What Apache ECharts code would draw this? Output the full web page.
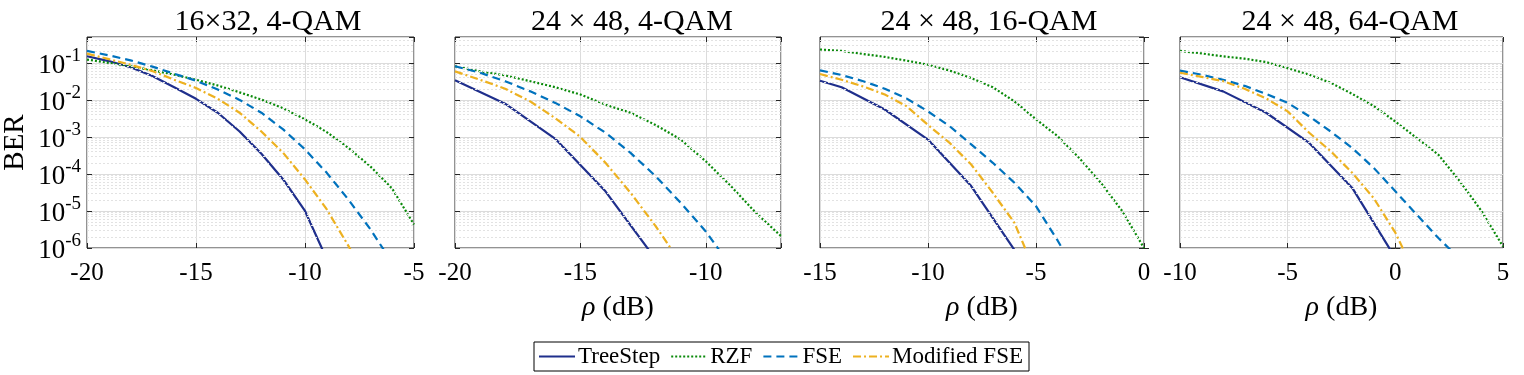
<!DOCTYPE html>
<html>
<head>
<meta charset="utf-8">
<title>BER vs rho</title>
<script src="https://cdn.jsdelivr.net/npm/echarts@6/dist/echarts.min.js"></script>
<style>
  html, body { margin: 0; padding: 0; background: #fff; }
  #chart { width: 1524px; height: 375px; }
</style>
</head>
<body>
<div id="chart"></div>
<script>
// ---- data (BER, x in dB) ----
const titles = ['16\u00d732, 4-QAM', '24 \u00d7 48, 4-QAM', '24 \u00d7 48, 16-QAM', '24 \u00d7 48, 64-QAM']
const seriesNames = ['TreeStep', 'RZF', 'FSE', 'Modified FSE']

// panel 1: 16x32, 4-QAM
const snr1 = [-20, -19, -18, -17, -16, -15, -14, -13, -12, -11, -10, -9, -8, -7, -6, -5]
const treeStep1 = [1.51e-1, 1.12e-1, 7.6e-2, 4.4e-2, 2.2e-2, 1.07e-2, 4.5e-3, 1.4e-3, 3.5e-4, 7.1e-5, 1.0e-5, 5.0e-7]
const rzf1 = [1.23e-1, 1.0e-1, 8.1e-2, 6.3e-2, 4.8e-2, 3.5e-2, 2.45e-2, 1.6e-2, 1.02e-2, 5.9e-3, 3.0e-3, 1.35e-3, 5.0e-4, 1.6e-4, 4.0e-5, 4.3e-6]
const fse1 = [2.1e-1, 1.6e-1, 1.17e-1, 7.9e-2, 5.1e-2, 3.3e-2, 1.9e-2, 1.0e-2, 4.5e-3, 1.6e-3, 4.6e-4, 1.07e-4, 2.0e-5, 3.2e-6, 4.0e-7]
const mfse1 = [1.78e-1, 1.26e-1, 8.9e-2, 6.0e-2, 3.5e-2, 2.1e-2, 1.07e-2, 4.5e-3, 1.4e-3, 3.7e-4, 7.1e-5, 1.1e-5, 1.12e-6, 1.0e-7]

// panel 2: 24x48, 4-QAM
const snr2 = [-20, -19, -18, -17, -16, -15, -14, -13, -12, -11, -10, -9, -8, -7]
const treeStep2 = [3.4e-2, null, 7.9e-3, null, 8.9e-4, null, 3.4e-5, null, 5.0e-7]
const rzf2 = [8.1e-2, 5.9e-2, 4.6e-2, 3.2e-2, 2.2e-2, 1.4e-2, 7.4e-3, 4.5e-3, 2.1e-3, 8.5e-4, 2.2e-4, 4.7e-5, 8.9e-6, 2.1e-6]
const fse2 = [8.1e-2, 5.4e-2, 3.2e-2, 1.7e-2, 8.3e-3, 3.6e-3, 1.3e-3, 3.7e-4, 8.7e-5, 1.66e-5, 2.8e-6, 3.2e-7]
const mfse2 = [5.9e-2, 3.5e-2, 2.0e-2, 9.1e-3, 3.2e-3, 1.0e-3, 2.0e-4, 3.1e-5, 3.9e-6, 4.0e-7]

// panel 3: 24x48, 16-QAM
const snr3 = [-15, -14, -13, -12, -11, -10, -9, -8, -7, -6, -5, -4, -3, -2, -1, 0]
const treeStep3 = [3.3e-2, 2.2e-2, null, 5.5e-3, null, 8.5e-4, null, 4.7e-5, null, 8.9e-7]
const rzf3 = [2.3e-1, 2.1e-1, 1.74e-1, 1.45e-1, 1.15e-1, 8.9e-2, 6.2e-2, 3.9e-2, 2.2e-2, 9.1e-3, 3.0e-3, 1.05e-3, 2.7e-4, 5.8e-5, 9.8e-6, 1.0e-6]
const fse3 = [6.3e-2, 4.7e-2, 3.2e-2, 2.0e-2, 1.1e-2, 4.9e-3, 1.95e-3, 6.3e-4, 2.0e-4, 5.8e-5, 1.35e-5, 1.6e-6, 1.6e-7]
const mfse3 = [5.0e-2, 3.5e-2, 2.3e-2, 1.4e-2, 6.8e-3, 2.1e-3, 6.9e-4, 1.8e-4, 3.1e-5, 4.8e-6, 2.0e-7]

// panel 4: 24x48, 64-QAM
const snr4 = [-10, -9, -8, -7, -6, -5, -4, -3, -2, -1, 0, 1, 2, 3, 4, 5]
const treeStep4 = [4.1e-2, null, 1.7e-2, null, 4.5e-3, null, 6.9e-4, null, 4.2e-5, null, 5.4e-7]
const rzf4 = [2.1e-1, 1.8e-1, 1.5e-1, 1.3e-1, 1.05e-1, 7.2e-2, 4.8e-2, 2.9e-2, 1.45e-2, 6.8e-3, 2.6e-3, 9.3e-4, 3.3e-4, 6.3e-5, 1.0e-5, 1.1e-6]
const fse4 = [6.2e-2, 4.8e-2, 3.5e-2, 2.4e-2, 1.45e-2, 8.3e-3, 3.6e-3, 1.4e-3, 5.0e-4, 1.45e-4, 3.4e-5, 7.9e-6, 1.86e-6, 5.0e-7]
const mfse4 = [5.4e-2, 4.2e-2, 3.2e-2, 2.0e-2, 1.1e-2, 4.9e-3, 1.3e-3, 4.1e-4, 1.07e-4, 2.2e-5, 2.6e-6, 1.6e-7]

const xRanges = [[-20, -5], [-20, -7], [-15, 0], [-10, 5]]

const panels = [
  { snr: snr1, lines: [treeStep1, rzf1, fse1, mfse1] },
  { snr: snr2, lines: [treeStep2, rzf2, fse2, mfse2] },
  { snr: snr3, lines: [treeStep3, rzf3, fse3, mfse3] },
  { snr: snr4, lines: [treeStep4, rzf4, fse4, mfse4] }
]

// ---- styling ----
const FONT = 'Liberation Serif'
const lineStyles = [
  { color: '#1f2f8c', width: 2.2, type: 'solid' },
  { color: '#0a8a0a', width: 2.2, type: [2, 2] },
  { color: '#0072bd', width: 2.2, type: [8, 5] },
  { color: '#edb120', width: 2.2, type: [8, 3, 2, 3] }
]
const gridBoxes = [
  { left: 86, width: 328, titleX: 268 },
  { left: 455, width: 326, titleX: 632 },
  { left: 820, width: 324, titleX: 989 },
  { left: 1180, width: 323, titleX: 1350 }
]
const tickStyle = { show: true, inside: true, length: 5, lineStyle: { color: '#262626' } }

const chart = echarts.init(document.getElementById('chart'))

const grid = gridBoxes.map(g => ({
  left: g.left, top: 37, width: g.width, height: 211,
  show: true, borderColor: '#262626', borderWidth: 1, backgroundColor: '#fff'
}))

const xAxis = []
const yAxis = []
xRanges.forEach((r, i) => {
  xAxis.push({
    type: 'value', gridIndex: i, min: r[0], max: r[1], interval: 5,
    name: i === 0 ? '' : '{i|\u03c1} (dB)',
    nameLocation: 'middle', nameGap: 46,
    nameTextStyle: {
      fontFamily: FONT, fontSize: 28, color: '#000',
      rich: { i: { fontFamily: FONT, fontSize: 28, fontStyle: 'italic', color: '#000' } }
    },
    axisLine: { show: false },
    axisTick: tickStyle,
    axisLabel: {
      margin: 13, fontFamily: FONT, fontSize: 25, color: '#000',
      formatter: v => (v % 5 === 0 ? String(v) : '')
    },
    splitLine: { show: true, lineStyle: { color: '#dcdcdc', width: 1 } }
  })
  yAxis.push({
    type: 'log', gridIndex: i, logBase: 10, min: 1e-6, max: 0.5,
    name: i === 0 ? 'BER' : '',
    nameLocation: 'middle', nameGap: 57,
    nameTextStyle: { fontFamily: FONT, fontSize: 29, color: '#000' },
    axisLine: { show: false },
    axisTick: tickStyle,
    axisLabel: {
      show: i === 0, margin: 6, fontFamily: FONT, fontSize: 27, color: '#000',
      formatter: v => {
        const e = Math.round(Math.log10(v))
        if (Math.abs(Math.log10(v) - e) > 1e-6) return ''
        return '{b|10}{sup|' + e + '}'
      },
      rich: {
        b: { fontFamily: FONT, fontSize: 27, color: '#000', padding: [6, 0, 0, 0] },
        sup: { fontFamily: FONT, fontSize: 19, color: '#000', verticalAlign: 'top', padding: [0, 0, 0, 0] }
      }
    },
    splitLine: { show: true, lineStyle: { color: '#dcdcdc', width: 1 } }
  })
})
// mirrored axes on top / right, ticks only (box style)
xRanges.forEach((r, i) => {
  xAxis.push({
    type: 'value', gridIndex: i, position: 'top', min: r[0], max: r[1], interval: 5,
    axisLine: { show: false }, axisTick: tickStyle, axisLabel: { show: false }, splitLine: { show: false }
  })
  yAxis.push({
    type: 'log', gridIndex: i, position: 'right', logBase: 10, min: 1e-6, max: 0.5,
    axisLine: { show: false }, axisTick: tickStyle, axisLabel: { show: false }, splitLine: { show: false }
  })
})

const series = []
panels.forEach((p, gi) => {
  const r = xRanges[gi]
  // minor log grid lines (2..9 in each decade)
  const minor = []
  for (let k = -6; k <= -1; k++) {
    for (let m = 2; m <= 9; m++) {
      const v = m * Math.pow(10, k)
      if (v < 0.5) minor.push([{ coord: [r[0], v] }, { coord: [r[1], v] }])
    }
  }
  series.push({
    name: 'minor' + gi, type: 'line', xAxisIndex: gi, yAxisIndex: gi, data: [],
    silent: true, z: 1,
    markLine: {
      silent: true, symbol: 'none', animation: false,
      label: { show: false },
      lineStyle: { color: '#e2e2e2', width: 1, type: [2, 2] },
      data: minor
    }
  })
  p.lines.forEach((vals, si) => {
    series.push({
      name: seriesNames[si], type: 'line', xAxisIndex: gi, yAxisIndex: gi,
      showSymbol: false, symbol: 'none', connectNulls: true, z: 3 + si,
      lineStyle: lineStyles[si], itemStyle: { color: lineStyles[si].color },
      data: vals.map((v, k) => [p.snr[k], v]).filter(d => d[1] != null),
      animation: false
    })
  })
})

const option = {
  backgroundColor: '#fff',
  animation: false,
  grid, xAxis, yAxis, series,
  graphic: gridBoxes.map((g, i) => ({
    type: 'text', x: g.titleX, y: 22,
    style: { text: titles[i], fontFamily: FONT, fontSize: 30, fill: '#000', align: 'center', verticalAlign: 'middle' }
  })),
  legend: {
    data: seriesNames,
    left: 534, top: 342,
    orient: 'horizontal',
    itemWidth: 36, itemHeight: 12, itemGap: 10,
    padding: [3, 6, 3, 4],
    borderColor: '#000', borderWidth: 1, borderRadius: 0,
    backgroundColor: '#fff',
    itemStyle: { opacity: 0 },
    textStyle: { fontFamily: FONT, fontSize: 23, color: '#000', padding: [0, 0, 0, -2] }
  }
}

chart.setOption(option)
</script>
</body>
</html>
